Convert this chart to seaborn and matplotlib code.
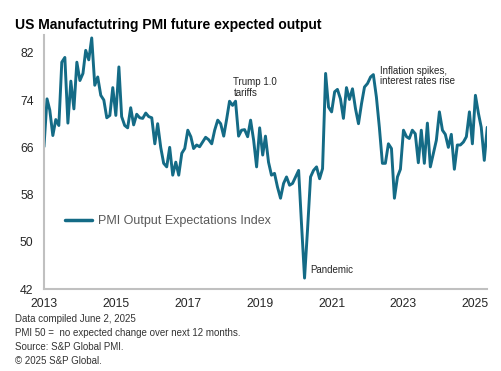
import pandas as pd
import matplotlib.pyplot as plt
import matplotlib.dates as mdates
import seaborn as sns

# Monthly PMI output expectations index, Jan 2013 - May 2025
vals_2013 = [66.1, 74.2, 72.3, 68.0, 70.7, 69.7, 80.4, 81.2, 70.1, 77.2, 72.5, 80.4]
vals_2014 = [77.3, 78.5, 82.4, 80.8, 84.5, 76.5, 77.9, 74.8, 74.0, 71.0, 71.4, 76.1]
vals_2015 = [71.4, 79.6, 71.2, 69.7, 69.3, 72.7, 69.8, 71.6, 71.0, 70.9, 71.8, 71.2]
vals_2016 = [71.0, 66.6, 70.0, 66.0, 63.3, 62.7, 66.0, 61.3, 63.5, 61.3, 65.0, 65.8]
vals_2017 = [68.9, 67.8, 65.8, 66.4, 66.1, 66.9, 67.7, 67.3, 66.6, 68.9, 70.6, 70.0]
vals_2018 = [67.9, 70.9, 73.8, 73.1, 73.8, 67.9, 68.9, 69.0, 67.8, 70.6, 67.2, 62.7]
vals_2019 = [69.3, 64.7, 67.9, 63.5, 61.3, 61.6, 59.3, 57.4, 59.9, 61.0, 59.6, 59.9]
vals_2020 = [61.0, 62.1, 53.1, 43.9, 52.0, 61.0, 62.1, 62.7, 60.7, 62.4, 78.5, 72.8]
vals_2021 = [72.0, 75.4, 75.8, 74.2, 70.9, 76.1, 74.1, 75.9, 72.5, 70.0, 73.4, 76.2]
vals_2022 = [76.8, 77.9, 78.3, 74.5, 69.4, 63.3, 63.3, 66.6, 65.8, 57.4, 61.0, 62.3]
vals_2023 = [68.9, 67.8, 67.5, 68.9, 68.3, 63.4, 68.9, 63.3, 70.1, 62.7, 65.0, 67.2]
vals_2024 = [72.0, 68.9, 68.2, 66.0, 68.2, 62.3, 66.4, 66.4, 66.9, 67.8, 72.0, 66.6]
vals_2025 = [74.8, 71.7, 69.4, 63.8, 69.4]

values = (vals_2013 + vals_2014 + vals_2015 + vals_2016 + vals_2017 + vals_2018 + vals_2019
          + vals_2020 + vals_2021 + vals_2022 + vals_2023 + vals_2024 + vals_2025)
dates = pd.date_range('2013-01-01', periods=len(values), freq='MS')
series_name = 'PMI Output Expectations Index'

y_ticks = [42, 50, 58, 66, 74, 82]
x_tick_years = [2013, 2015, 2017, 2019, 2021, 2023, 2025]

notes = ['Data compiled June 2, 2025',
         'PMI 50 =  no expected change over next 12 months.',
         'Source: S&P Global PMI.',
         '\u00a9 2025 S&P Global.']

df = pd.DataFrame({'date': dates, 'value': values, 'series': series_name})

sns.set_style('white')
plt.rcParams['font.family'] = ['Liberation Sans', 'DejaVu Sans']

line_color = '#146b86'
fig = plt.figure(figsize=(5.02, 3.71), dpi=100)
ax = fig.add_axes([0.0876, 0.2202, 0.883, 0.6855])

sns.lineplot(data=df, x='date', y='value', hue='series', palette=[line_color],
             linewidth=2.1, ax=ax)

ax.set_ylim(42, 85)
ax.set_xlim(dates[0], dates[-1])
ax.set_yticks(y_ticks)
ax.set_xticks([pd.Timestamp(f'{y}-01-01') for y in x_tick_years])
ax.xaxis.set_major_formatter(mdates.DateFormatter('%Y'))
ax.set_xlabel('')
ax.set_ylabel('')
ax.tick_params(axis='both', length=0, labelsize=8.8, colors='#262626')
ax.tick_params(axis='y', pad=7.5)
ax.tick_params(axis='x', pad=6)

for side in ['top', 'right']:
    ax.spines[side].set_visible(False)
for side in ['left', 'bottom']:
    ax.spines[side].set_color('#c0c0c0')
    ax.spines[side].set_linewidth(1.5)

leg = ax.legend(loc='center left', bbox_to_anchor=(0.047, 0.269), frameon=False,
                fontsize=9, handlelength=2.2, handletextpad=0.45,
                borderpad=0, borderaxespad=0)
for t in leg.get_texts():
    t.set_color('#595959')
for h in leg.get_lines():
    h.set_linewidth(2.5)

# annotations
ax.text(pd.Timestamp('2018-04-10'), 74.4, 'Trump 1.0\ntariffs', fontsize=7,
        color='#262626', va='bottom', linespacing=1.1)
ax.text(pd.Timestamp('2020-06-01'), 45.3, 'Pandemic', fontsize=7,
        color='#262626', va='center')
ax.text(pd.Timestamp('2022-05-05'), 76.3, 'Inflation spikes,\ninterest rates rise',
        fontsize=7, color='#262626', va='bottom', linespacing=1.1)

fig.text(15 / 502, 1 - 25 / 371, 'US Manufactutring PMI future expected output',
         fontsize=10, fontweight='bold', color='black', va='center', ha='left')

for i, line in enumerate(notes):
    fig.text(15 / 502, 1 - (318.5 + i * 14) / 371, line, fontsize=7,
             color='#333333', va='center', ha='left')

fig.savefig('out.png', dpi=100)
